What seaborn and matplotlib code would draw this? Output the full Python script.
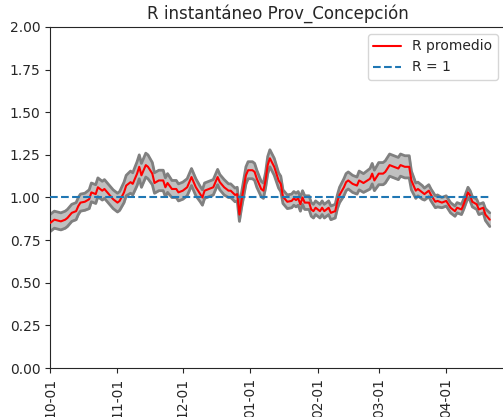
import numpy as np
import pandas as pd
import matplotlib
matplotlib.use("Agg")
import matplotlib.pyplot as plt
import matplotlib.dates as mdates
import seaborn as sns

start_date = "2020-10-01"
day_offset = [0, 2, 5, 7, 8, 10, 12, 13, 14, 16, 18, 19, 21, 22, 24, 25, 27, 29, 31, 32,
              34, 35, 37, 38, 40, 41, 42, 44, 45, 47, 48, 50, 52, 53, 54, 56, 58, 59, 61, 63,
              64, 65, 67, 69, 70, 71, 73, 75, 76, 77, 78, 80, 82, 83, 85, 86, 87, 88, 90, 91,
              93, 94, 95, 97, 98, 99, 100, 101, 103, 105, 106, 107, 109, 111, 112, 113, 114, 115, 116, 117,
              119, 120, 121, 122, 124, 125, 126, 128, 129, 131, 132, 133, 135, 136, 137, 139, 141, 142, 144, 147,
              148, 149, 151, 153, 154, 156, 158, 160, 161, 163, 165, 166, 168, 169, 171, 172, 174, 175, 177, 178,
              180, 182, 184, 186, 187, 189, 190, 192, 193, 194, 196, 197, 199, 200, 202]
r_mean = [0.85, 0.87, 0.86, 0.87, 0.88, 0.91, 0.92, 0.95, 0.97, 0.975, 0.99, 1.03, 1.02, 1.06, 1.04, 1.05, 1.02, 0.99, 0.97, 0.98,
          1.03, 1.07, 1.09, 1.08, 1.14, 1.18, 1.13, 1.19, 1.18, 1.14, 1.085, 1.10, 1.10, 1.06, 1.085, 1.05, 1.05, 1.03, 1.04, 1.06,
          1.09, 1.12, 1.06, 1.02, 1.00, 1.04, 1.05, 1.06, 1.09, 1.12, 1.09, 1.06, 1.04, 1.04, 1.015, 1.02, 0.90, 0.985, 1.13, 1.16,
          1.16, 1.15, 1.11, 1.05, 1.04, 1.10, 1.19, 1.23, 1.18, 1.10, 1.08, 1.005, 0.975, 0.98, 0.995, 0.985, 0.995, 0.96, 1.00, 0.97,
          0.97, 0.93, 0.92, 0.94, 0.92, 0.94, 0.92, 0.94, 0.91, 0.92, 0.975, 1.015, 1.06, 1.09, 1.10, 1.08, 1.07, 1.10, 1.085, 1.11,
          1.14, 1.10, 1.14, 1.14, 1.15, 1.19, 1.18, 1.17, 1.19, 1.18, 1.18, 1.10, 1.04, 1.05, 1.03, 1.02, 1.04, 1.015, 0.975, 0.98,
          0.97, 0.98, 0.94, 0.92, 0.94, 0.93, 0.96, 1.03, 1.01, 0.975, 0.96, 0.93, 0.94, 0.90, 0.87]
ci_half = [0.05, 0.05, 0.05, 0.05, 0.05, 0.05, 0.05, 0.05, 0.05, 0.05, 0.055, 0.055, 0.055, 0.055, 0.055, 0.055, 0.055, 0.055, 0.055, 0.055,
           0.06, 0.06, 0.065, 0.065, 0.07, 0.07, 0.07, 0.07, 0.07, 0.065, 0.06, 0.06, 0.06, 0.055, 0.055, 0.05, 0.05, 0.05, 0.05, 0.05,
           0.05, 0.05, 0.05, 0.045, 0.045, 0.045, 0.045, 0.045, 0.045, 0.045, 0.045, 0.045, 0.04, 0.04, 0.04, 0.04, 0.04, 0.045, 0.05, 0.05,
           0.05, 0.05, 0.05, 0.045, 0.045, 0.045, 0.05, 0.05, 0.05, 0.045, 0.045, 0.04, 0.04, 0.04, 0.04, 0.04, 0.04, 0.04, 0.04, 0.04,
           0.04, 0.04, 0.04, 0.04, 0.04, 0.04, 0.04, 0.04, 0.04, 0.04, 0.04, 0.045, 0.05, 0.05, 0.05, 0.05, 0.05, 0.055, 0.055, 0.06,
           0.06, 0.06, 0.065, 0.065, 0.065, 0.065, 0.065, 0.065, 0.065, 0.065, 0.065, 0.055, 0.045, 0.04, 0.04, 0.035, 0.035, 0.035, 0.035, 0.035,
           0.03, 0.03, 0.03, 0.03, 0.03, 0.03, 0.03, 0.03, 0.03, 0.03, 0.03, 0.03, 0.03, 0.035, 0.04]
y_ticks = [0.00, 0.25, 0.50, 0.75, 1.00, 1.25, 1.50, 1.75, 2.00]

dates = pd.to_datetime(start_date) + pd.to_timedelta(day_offset, unit="D")
df = pd.DataFrame({"fecha": dates, "R": r_mean})
lower = np.array(r_mean) - np.array(ci_half)
upper = np.array(r_mean) + np.array(ci_half)
df["uno"] = 1.0

sns.set_style("ticks")
plt.rcParams["font.family"] = ["DejaVu Sans"]

fig = plt.figure(figsize=(5.03, 4.17), dpi=100)
ax = fig.add_axes([50 / 503, 49 / 417, 455 / 503, 341 / 417])

ax.fill_between(df["fecha"], lower, upper, color="#c0c0c0", zorder=1)
sns.lineplot(x=df["fecha"], y=lower, ax=ax, color="#808080", lw=2, zorder=2)
sns.lineplot(x=df["fecha"], y=upper, ax=ax, color="#808080", lw=2, zorder=2)
sns.lineplot(data=df, x="fecha", y="R", ax=ax, color="red", lw=1.5, label="R promedio", zorder=3)
sns.lineplot(data=df, x="fecha", y="uno", ax=ax, color="#1f77b4", lw=1.5, linestyle="--", label="R = 1", zorder=3)

ax.set_ylim(0, 2)
ax.set_yticks(y_ticks)
ax.set_yticklabels([f"{t:.2f}" for t in y_ticks])
ax.set_xlim(pd.to_datetime(start_date), pd.to_datetime(start_date) + pd.Timedelta(days=209))
ax.xaxis.set_major_locator(mdates.MonthLocator())
ax.xaxis.set_major_formatter(mdates.DateFormatter("%m-%d"))
plt.setp(ax.get_xticklabels(), rotation=90)
ax.set_xlabel("")
ax.set_ylabel("")
ax.set_title("R instantáneo Prov_Concepción", fontsize=12)
ax.legend(loc="upper right", fontsize=10)

fig.savefig("out.png", dpi=100)
